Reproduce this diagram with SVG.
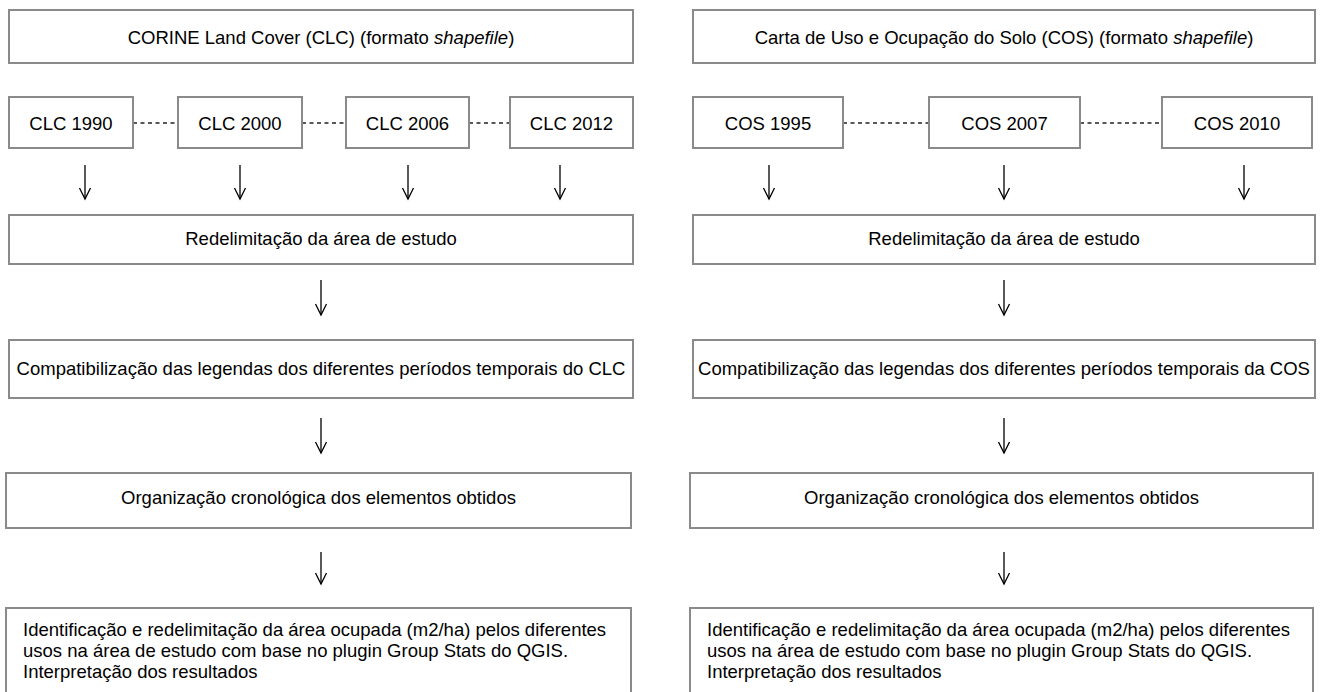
<svg xmlns="http://www.w3.org/2000/svg" width="1321" height="692" viewBox="0 0 1321 692">
<style>
.box{fill:#fff;stroke:#8a8a8a;stroke-width:2}
text{font-family:"Liberation Sans",Arial,Helvetica,sans-serif;font-size:18.5px;fill:#000}
.c{text-anchor:middle}
.arr{stroke:#000;stroke-width:1.3;fill:none;marker-end:url(#ah)}
.dot{stroke:#222;stroke-width:1.3;stroke-dasharray:4 3.5;fill:none}
</style>
<defs>
<marker id="ah" viewBox="-13 -7 15 14" refX="0" refY="0" markerWidth="15" markerHeight="14" markerUnits="userSpaceOnUse" orient="auto">
<path d="M-11,-5.5 L0,0 L-11,5.5" fill="none" stroke="#000" stroke-width="1.3"/>
</marker>
</defs>
<rect width="1321" height="692" fill="#fff"/>
<g id="connectors">
<line class="dot" x1="133" y1="123" x2="178" y2="123"/>
<line class="dot" x1="302" y1="123" x2="346" y2="123"/>
<line class="dot" x1="469" y1="123" x2="510" y2="123"/>
<line class="dot" x1="843" y1="123" x2="929" y2="123"/>
<line class="dot" x1="1080" y1="123" x2="1162" y2="123"/>
<line class="arr" x1="85" y1="165" x2="85" y2="199"/>
<line class="arr" x1="240" y1="165" x2="240" y2="199"/>
<line class="arr" x1="408" y1="165" x2="408" y2="199"/>
<line class="arr" x1="560" y1="165" x2="560" y2="199"/>
<line class="arr" x1="769" y1="165" x2="769" y2="199"/>
<line class="arr" x1="1004" y1="165" x2="1004" y2="199"/>
<line class="arr" x1="1244" y1="165" x2="1244" y2="199"/>
<line class="arr" x1="321" y1="280" x2="321" y2="315"/>
<line class="arr" x1="321" y1="418" x2="321" y2="453"/>
<line class="arr" x1="321" y1="552" x2="321" y2="584"/>
<line class="arr" x1="1004" y1="280" x2="1004" y2="315"/>
<line class="arr" x1="1004" y1="418" x2="1004" y2="453"/>
<line class="arr" x1="1004" y1="552" x2="1004" y2="584"/>
</g>
<g id="clc-title"><rect class="box" x="9" y="10" width="624" height="53"/><text class="c" x="321" y="43.5">CORINE Land Cover (CLC) (formato <tspan font-style="italic">shapefile</tspan>)</text></g>
<g id="clc1990"><rect class="box" x="9" y="97" width="124" height="51"/><text class="c" x="71" y="129.5">CLC 1990</text></g>
<g id="clc2000"><rect class="box" x="178" y="97" width="124" height="51"/><text class="c" x="240" y="129.5">CLC 2000</text></g>
<g id="clc2006"><rect class="box" x="346" y="97" width="123" height="51"/><text class="c" x="407.5" y="129.5">CLC 2006</text></g>
<g id="clc2012"><rect class="box" x="510" y="97" width="123" height="51"/><text class="c" x="571.5" y="129.5">CLC 2012</text></g>
<g id="clc-redelim"><rect class="box" x="9" y="215" width="624" height="49"/><text class="c" x="321" y="245">Redelimitação da área de estudo</text></g>
<g id="clc-compat"><rect class="box" x="9" y="340" width="624" height="58"/><text class="c" x="321" y="375">Compatibilização das legendas dos diferentes períodos temporais do CLC</text></g>
<g id="clc-org"><rect class="box" x="6" y="473" width="625" height="55"/><text class="c" x="318.5" y="504">Organização cronológica dos elementos obtidos</text></g>
<g id="clc-ident"><rect class="box" x="6" y="608" width="625" height="95"/><text x="23" y="636">Identificação e redelimitação da área ocupada (m2/ha) pelos diferentes</text><text x="23" y="657">usos na área de estudo com base no plugin Group Stats do QGIS.</text><text x="23" y="678">Interpretação dos resultados</text></g>
<g id="cos-title"><rect class="box" x="693" y="10" width="622" height="53"/><text class="c" x="1004" y="43.5">Carta de Uso e Ocupação do Solo (COS) (formato <tspan font-style="italic">shapefile</tspan>)</text></g>
<g id="cos1995"><rect class="box" x="693" y="97" width="150" height="51"/><text class="c" x="768" y="129.5">COS 1995</text></g>
<g id="cos2007"><rect class="box" x="929" y="97" width="151" height="51"/><text class="c" x="1004.5" y="129.5">COS 2007</text></g>
<g id="cos2010"><rect class="box" x="1162" y="97" width="150" height="51"/><text class="c" x="1237" y="129.5">COS 2010</text></g>
<g id="cos-redelim"><rect class="box" x="693" y="215" width="622" height="49"/><text class="c" x="1004" y="245">Redelimitação da área de estudo</text></g>
<g id="cos-compat"><rect class="box" x="693" y="340" width="622" height="58"/><text class="c" x="1004" y="375">Compatibilização das legendas dos diferentes períodos temporais da COS</text></g>
<g id="cos-org"><rect class="box" x="690" y="473" width="623" height="55"/><text class="c" x="1001.5" y="504">Organização cronológica dos elementos obtidos</text></g>
<g id="cos-ident"><rect class="box" x="690" y="608" width="623" height="95"/><text x="707" y="636">Identificação e redelimitação da área ocupada (m2/ha) pelos diferentes</text><text x="707" y="657">usos na área de estudo com base no plugin Group Stats do QGIS.</text><text x="707" y="678">Interpretação dos resultados</text></g>
</svg>
